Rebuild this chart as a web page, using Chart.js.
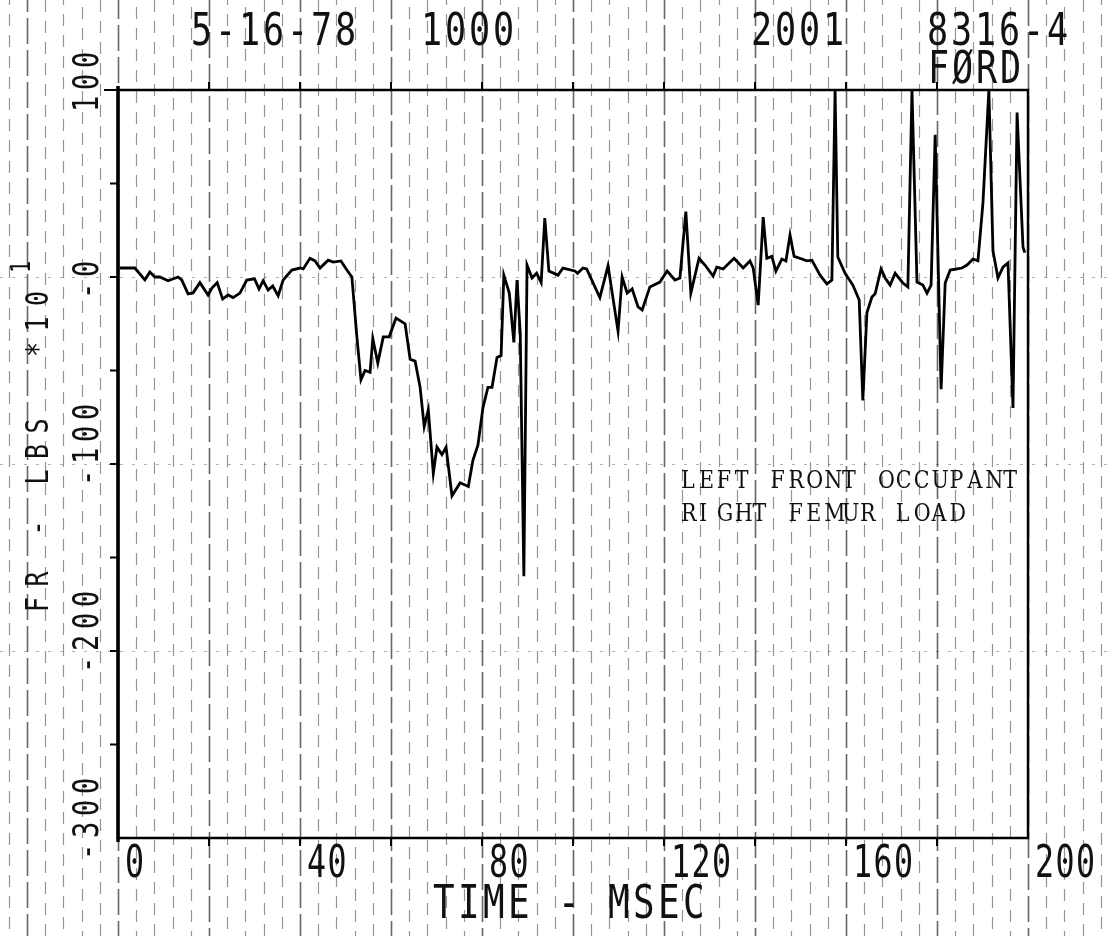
<!DOCTYPE html>
<html>
<head>
<meta charset="utf-8">
<script src="https://cdn.jsdelivr.net/npm/chart.js@4.4.0/dist/chart.umd.min.js"></script>
<style>
  html, body { margin: 0; padding: 0; background: #fff; }
  canvas { display: block; }
</style>
</head>
<body>
<canvas id="femurChart" width="1110" height="936"></canvas>
<script>
// time in msec
const times = [0.4, 3.7, 5.9, 7.0, 8.1, 9.2, 11.0, 13.2, 14.0, 15.4, 16.5, 18.0, 19.8, 20.6, 21.8, 23.0, 24.2, 25.3, 26.8, 28.3,
  30.0, 31.0, 31.9, 33.0, 34.0, 35.2, 36.3, 38.2, 40.0, 40.7, 42.2, 43.3, 44.4, 46.2, 47.3, 49.0, 50.3, 51.4, 52.5, 53.4,
  54.3, 55.4, 56.0, 57.1, 58.3, 59.6, 61.1, 63.1, 64.2, 65.3, 66.4, 67.3, 68.2, 69.3, 70.1, 71.2, 72.1, 73.4, 75.2, 77.0,
  78.0, 79.1, 80.2, 81.3, 82.2, 83.3, 84.2, 84.8, 86.0, 87.0, 87.7, 88.4, 89.2, 89.9, 91.0, 92.0, 93.0, 93.8, 94.7, 96.7,
  97.8, 100.4, 101.0, 102.2, 103.0, 105.9, 107.7, 109.9, 110.8, 111.9, 113.0, 114.3, 115.2, 116.9, 119.1, 120.7, 122.4, 123.5, 124.8, 125.9,
  127.7, 129.0, 130.8, 131.6, 133.0, 135.4, 137.4, 138.9, 139.6, 140.7, 141.8, 142.6, 143.7, 144.6, 145.9, 146.8, 147.7, 148.6, 150.3, 151.4,
  152.5, 154.3, 155.8, 156.9, 157.6, 158.2, 159.8, 161.5, 162.9, 163.7, 164.6, 165.7, 166.4, 167.7, 168.6, 169.7, 170.8, 172.5, 173.6, 174.5,
  175.6, 176.9, 177.8, 178.7, 179.6, 180.9, 181.8, 182.9, 184.4, 185.5, 186.6, 187.9, 189.0, 190.1, 191.4, 192.3, 193.4, 194.5, 195.6, 196.7,
  197.6, 198.9, 199.3];

// femur load, lbs x 10
const loads = [4.8, 4.8, -1.6, 2.7, 0, 0, -2, 0, -1.6, -9, -8.5, -3, -9.6, -6, -3, -11.8, -9.6, -11, -8.6, -1.6,
  -1, -6.4, -2, -7, -4.8, -10, -1.6, 3.7, 4.8, 4.3, 10, 8.6, 4.8, 9, 8, 8.6, 3.7, 0, -32, -55,
  -50, -51, -33, -46, -32, -32, -22, -25, -44, -45, -59, -80, -71, -105, -91, -95, -91, -117, -110, -112,
  -98, -90, -70, -59, -59, -43, -42, 1, -8.6, -35, -1.6, -30, -160, 6.4, -0.5, 2, -3, 31.5, 3.2, 1,
  4.8, 3.2, 2, 4.8, 4.3, -11, 6, -29, 0, -8.6, -6.4, -16, -17.6, -5.3, -2.7, 3.2, -1.6, -0.5, 35, -8.6,
  10, 6.4, 0.5, 5.3, 4.3, 10, 4.8, 8.6, 4.8, -15, 32, 10, 11, 3.2, 9.6, 8.6, 22.5, 11, 9.6, 8.6,
  9, 1, -3.7, -1.6, 100, 10.7, 2, -4.3, -12.3, -66, -19, -10.7, -9, 4.3, -0.5, -4.3, 2, -3.2, -5.3, 100,
  -2.7, -4.3, -8.6, -4.3, 76, -60, -3.2, 3.7, 4.3, 4.8, 6.4, 9.6, 8.6, 39.6, 100, 14, -0.5, 5.3, 7.5, -70,
  88, 16, 13];

const xTickLabels = ['0', '40', '80', '120', '160', '200'];
const xTickValues = [0, 40, 80, 120, 160, 200];
const yTickLabels = ['100', '-0', '-100', '-200', '-300'];
const yTickValues = [100, 0, -100, -200, -300];

const headerLine1 = [['5-16-78', 191], ['1000', 421], ['2001', 751], ['8316-4', 927]];
const headerLine2 = [['FØRD', 928]];
const noteLines = ['LEFT FRONT OCCUPANT', 'RIGHT FEMUR LOAD'];

// draws monospaced text char by char (plotter lettering)
function plotText(ctx, str, x, y, size, adv, sx, rot, family) {
  ctx.save();
  ctx.translate(x, y);
  if (rot) ctx.rotate(rot);
  ctx.font = size + 'px ' + (family || '"DejaVu Sans Mono"');
  ctx.textBaseline = 'alphabetic';
  ctx.textAlign = 'left';
  ctx.fillStyle = '#111';
  for (let i = 0; i < str.length; i++) {
    ctx.save();
    ctx.translate(i * adv, 0);
    ctx.scale(sx, 1);
    ctx.fillText(str[i], 0, 0);
    ctx.restore();
  }
  ctx.restore();
}

const paperPlugin = {
  id: 'paper',
  beforeDraw(chart) {
    const ctx = chart.ctx;
    const xs = chart.scales.x;
    const ys = chart.scales.y;
    ctx.save();
    ctx.fillStyle = '#fff';
    ctx.fillRect(0, 0, chart.width, chart.height);

    // graph paper verticals, every 4 msec, past the frame like the scan
    for (let v = -28, i = 0; v <= 224; v += 4, i++) {
      const px = Math.round(xs.getPixelForValue(v)) + 0.5;
      const major = v % 20 === 0;
      ctx.strokeStyle = major ? 'rgba(0,0,0,0.6)' : 'rgba(0,0,0,0.42)';
      ctx.lineWidth = major ? 1.6 : 1.2;
      ctx.setLineDash(major ? [26, 6] : [12, 9]);
      ctx.lineDashOffset = (i * 7) % 21;
      ctx.beginPath();
      ctx.moveTo(px, 0);
      ctx.lineTo(px, chart.height);
      ctx.stroke();
    }
    // faint dotted horizontals
    ctx.strokeStyle = 'rgba(0,0,0,0.3)';
    ctx.lineWidth = 1;
    ctx.setLineDash([3, 9]);
    for (const v of [0, -100, -200]) {
      const py = Math.round(ys.getPixelForValue(v)) + 0.5;
      ctx.beginPath();
      ctx.moveTo(0, py);
      ctx.lineTo(chart.width, py);
      ctx.stroke();
    }
    ctx.restore();
  },
  beforeDatasetsDraw(chart) {
    const ctx = chart.ctx;
    const a = chart.chartArea;
    const xs = chart.scales.x;
    const ys = chart.scales.y;
    ctx.save();
    ctx.setLineDash([]);
    ctx.strokeStyle = '#000';
    ctx.lineWidth = 2.5;
    ctx.strokeRect(a.left, a.top, a.right - a.left, a.bottom - a.top);
    ctx.lineWidth = 3.5;
    ctx.beginPath();
    ctx.moveTo(a.left, a.top - 4);
    ctx.lineTo(a.left, a.bottom + 4);
    ctx.stroke();
    ctx.lineWidth = 2;
    ctx.beginPath();
    ctx.moveTo(a.left - 14, a.top);
    ctx.lineTo(a.left, a.top);
    for (let v = 20; v < 200; v += 20) {
      const px = xs.getPixelForValue(v);
      ctx.moveTo(px, a.top - 8);
      ctx.lineTo(px, a.top);
      ctx.moveTo(px, a.bottom);
      ctx.lineTo(px, a.bottom + 8);
    }
    for (let v = -250; v < 100; v += 50) {
      const py = ys.getPixelForValue(v);
      ctx.moveTo(a.left - 8, py);
      ctx.lineTo(a.left, py);
    }
    ctx.stroke();
    ctx.restore();
  },
  afterDraw(chart) {
    const ctx = chart.ctx;
    const xs = chart.scales.x;
    const ys = chart.scales.y;

    headerLine1.forEach(([s, x]) => plotText(ctx, s, x, 45, 45, 24, 0.78, 0));
    headerLine2.forEach(([s, x]) => plotText(ctx, s, x, 83, 45, 24, 0.78, 0));

    xTickLabels.forEach((s, i) => {
      plotText(ctx, s, xs.getPixelForValue(xTickValues[i]) + 7, 877, 44, 20.5, 0.72, 0);
    });
    plotText(ctx, 'TIME - MSEC', 433, 918, 46, 25, 0.78, 0);

    yTickLabels.forEach((s, i) => {
      plotText(ctx, s, 98, ys.getPixelForValue(yTickValues[i]) + 22, 36, 22, 0.75, -Math.PI / 2);
    });
    plotText(ctx, 'FR - LBS  *10', 48, 612, 32, 25.5, 0.78, -Math.PI / 2);
    plotText(ctx, '1', 30, 273, 26, 18, 0.78, -Math.PI / 2);

    // typed note pasted on the plot
    plotText(ctx, noteLines[0], 681, 488, 24, 17.9, 0.86, 0, '"DejaVu Serif"');
    plotText(ctx, noteLines[1], 681, 521, 24, 17.9, 0.86, 0, '"DejaVu Serif"');
  }
};

const ctx = document.getElementById('femurChart');

new Chart(ctx, {
  type: 'line',
  data: {
    datasets: [{
      label: 'Right femur load',
      data: times.map((t, i) => ({ x: t, y: loads[i] })),
      borderColor: '#000',
      borderWidth: 2.8,
      pointRadius: 0,
      tension: 0,
      fill: false
    }]
  },
  options: {
    responsive: false,
    animation: false,
    devicePixelRatio: 1,
    layout: { padding: { left: 118, top: 90, right: 82, bottom: 98 } },
    plugins: { legend: { display: false }, tooltip: { enabled: false } },
    scales: {
      x: { type: 'linear', min: 0, max: 200, display: false },
      y: { type: 'linear', min: -300, max: 100, display: false }
    }
  },
  plugins: [paperPlugin]
});
</script>
</body>
</html>
